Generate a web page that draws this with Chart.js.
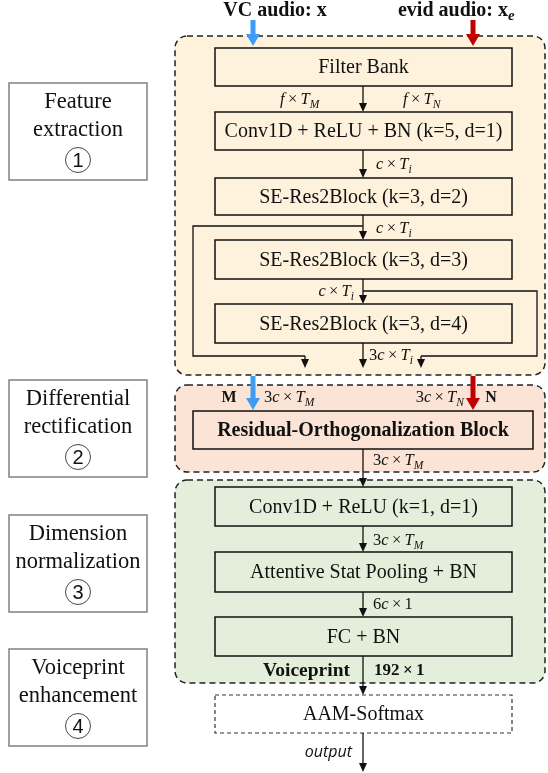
<!DOCTYPE html>
<html lang="en">
<head>
    <meta charset="UTF-8">
    <title>Voiceprint pipeline</title>
    <script src="https://cdn.jsdelivr.net/npm/chart.js"></script>
    <style>
        html, body { margin: 0; padding: 0; background: #fff; }
        #diagram { display: block; }
    </style>
</head>
<body>
    <canvas id="diagram" width="548" height="773"></canvas>

    <script>
        // ---- content ----
        const inputLabels = ['VC audio: x', 'evid audio: x'];
        const stageNames = [
            ['Feature', 'extraction'],
            ['Differential', 'rectification'],
            ['Dimension', 'normalization'],
            ['Voiceprint', 'enhancement']
        ];
        const stageNumbers = ['1', '2', '3', '4'];
        const blockLabels = [
            'Filter Bank',
            'Conv1D + ReLU + BN (k=5, d=1)',
            'SE-Res2Block (k=3, d=2)',
            'SE-Res2Block (k=3, d=3)',
            'SE-Res2Block (k=3, d=4)',
            'Residual-Orthogonalization Block',
            'Conv1D + ReLU (k=1, d=1)',
            'Attentive Stat Pooling + BN',
            'FC + BN',
            'AAM-Softmax'
        ];
        const dimLabels = [
            'f × T_M', 'f × T_N', 'c × T_i', 'c × T_i', 'c × T_i', '3c × T_i',
            '3c × T_M', '3c × T_N', '3c × T_M', '3c × T_M', '6c × 1'
        ];
        const branchLabels = ['M', 'N'];
        const embedLabel = 'Voiceprint';
        const embedSize = '192 × 1';
        const outputLabel = 'output';

        // ---- layout (diagram units = px of the 548x773 page) ----
        const layout = {
            regions: [
                { x0: 175, x1: 545, y0: 36, y1: 375, fill: '#fff2dc' },
                { x0: 175, x1: 545, y0: 385, y1: 472, fill: '#fbe3d6' },
                { x0: 175, x1: 545, y0: 480, y1: 683, fill: '#e3efda' }
            ],
            stageBoxes: [[83, 180], [380, 477], [515, 612], [649, 746]],
            blocks: [
                [215, 512, 48, 86], [215, 512, 112, 150], [215, 512, 178, 215],
                [215, 512, 240, 279], [215, 512, 304, 343], [193, 533, 411, 449],
                [215, 512, 487, 526], [215, 512, 552, 592], [215, 512, 617, 656],
                [215, 512, 695, 733]
            ],
            dims: [
                [280, 100, 'left'], [403, 100, 'left'], [376, 165, 'left'], [376, 229, 'left'],
                [354, 292, 'right'], [369, 356, 'left'], [264, 398, 'left'], [464, 398, 'right'],
                [373, 461, 'left'], [373, 541, 'left'], [373, 605, 'left']
            ]
        };
        const midX = 363, blueX = 253, redX = 473;

        const diagramPlugin = {
            id: 'diagram',
            afterDraw(chart) {
                const ctx = chart.ctx;
                const sx = chart.scales.x, sy = chart.scales.y;
                const X = v => sx.getPixelForValue(v);
                const Y = v => sy.getPixelForValue(v);
                const serif = '"Liberation Serif", "Times New Roman", serif';

                function roundRect(x0, y0, x1, y1, r) {
                    ctx.beginPath();
                    ctx.moveTo(X(x0) + r, Y(y0));
                    ctx.arcTo(X(x1), Y(y0), X(x1), Y(y1), r);
                    ctx.arcTo(X(x1), Y(y1), X(x0), Y(y1), r);
                    ctx.arcTo(X(x0), Y(y1), X(x0), Y(y0), r);
                    ctx.arcTo(X(x0), Y(y0), X(x1), Y(y0), r);
                    ctx.closePath();
                }

                function line(pts, color, w) {
                    ctx.save();
                    ctx.strokeStyle = color || '#111';
                    ctx.lineWidth = w || 1.3;
                    ctx.setLineDash([]);
                    ctx.beginPath();
                    pts.forEach((p, i) => i ? ctx.lineTo(X(p[0]), Y(p[1])) : ctx.moveTo(X(p[0]), Y(p[1])));
                    ctx.stroke();
                    ctx.restore();
                }

                function head(x, y, color, w, l) {
                    ctx.save();
                    ctx.fillStyle = color || '#111';
                    ctx.beginPath();
                    ctx.moveTo(X(x), Y(y));
                    ctx.lineTo(X(x) - w / 2, Y(y) - l);
                    ctx.lineTo(X(x) + w / 2, Y(y) - l);
                    ctx.closePath();
                    ctx.fill();
                    ctx.restore();
                }

                function arrowDown(x, y0, y1) {
                    line([[x, y0], [x, y1 - 6]]);
                    head(x, y1, '#111', 8, 9);
                }

                function fatArrow(x, y0, y1, color) {
                    ctx.save();
                    ctx.fillStyle = color;
                    ctx.fillRect(X(x) - 2.5, Y(y0), 5, Y(y1) - Y(y0) - 10);
                    ctx.restore();
                    head(x, y1, color, 14, 12);
                }

                function text(str, x, y, font, align, color) {
                    ctx.save();
                    ctx.font = font;
                    ctx.fillStyle = color || '#111';
                    ctx.textAlign = align || 'center';
                    ctx.textBaseline = 'middle';
                    ctx.fillText(str, X(x), Y(y));
                    ctx.restore();
                }

                // math-ish label: letters italic, "_x" subscript
                function math(str, x, y, align, size, bold) {
                    const parts = [];
                    for (let i = 0; i < str.length; i++) {
                        const ch = str[i];
                        if (ch === '_') { parts.push({ t: str[i + 1], it: true, sub: true }); i++; continue; }
                        if (ch === ' ') { parts.push({ t: '\u2009', it: false, sub: false }); continue; }
                        parts.push({ t: ch, it: /[a-zA-Z]/.test(ch), sub: false });
                    }
                    const b = bold ? 'bold ' : '';
                    const fontOf = p => (p.it ? 'italic ' : '') + b + (p.sub ? size * 0.7 : size) + 'px ' + serif;
                    ctx.save();
                    let total = 0;
                    parts.forEach(p => { ctx.font = fontOf(p); p.w = ctx.measureText(p.t).width; total += p.w; });
                    let cx = X(x);
                    if (align === 'right') cx -= total;
                    else if (align === 'center') cx -= total / 2;
                    ctx.fillStyle = '#111';
                    ctx.textBaseline = 'middle';
                    ctx.textAlign = 'left';
                    parts.forEach(p => {
                        ctx.font = fontOf(p);
                        ctx.fillText(p.t, cx, Y(y) + (p.sub ? size * 0.3 : 0));
                        cx += p.w;
                    });
                    ctx.restore();
                }

                // dashed stage regions
                layout.regions.forEach(r => {
                    roundRect(r.x0, r.y0, r.x1, r.y1, 12);
                    ctx.fillStyle = r.fill;
                    ctx.fill();
                    ctx.save();
                    ctx.setLineDash([6, 4]);
                    ctx.lineWidth = 1.5;
                    ctx.strokeStyle = '#222';
                    ctx.stroke();
                    ctx.restore();
                });

                // stage labels on the left
                layout.stageBoxes.forEach((sb, i) => {
                    ctx.save();
                    ctx.strokeStyle = '#808080';
                    ctx.lineWidth = 1.5;
                    ctx.strokeRect(X(9), Y(sb[0]), X(147) - X(9), Y(sb[1]) - Y(sb[0]));
                    ctx.restore();
                    text(stageNames[i][0], 78, sb[0] + 19, '22.5px ' + serif);
                    text(stageNames[i][1], 78, sb[0] + 47, '22.5px ' + serif);
                    ctx.save();
                    ctx.strokeStyle = '#333';
                    ctx.lineWidth = 0.9;
                    ctx.beginPath();
                    ctx.arc(X(78), Y(sb[0] + 77), 12.5, 0, Math.PI * 2);
                    ctx.stroke();
                    ctx.restore();
                    text(stageNumbers[i], 78, sb[0] + 78, '20px "Liberation Sans", Arial, sans-serif');
                });

                // blocks
                layout.blocks.forEach((bk, i) => {
                    const last = i === layout.blocks.length - 1;
                    ctx.save();
                    ctx.fillStyle = last ? '#ffffff' : 'rgba(0,0,0,0)';
                    ctx.fillRect(X(bk[0]), Y(bk[2]), X(bk[1]) - X(bk[0]), Y(bk[3]) - Y(bk[2]));
                    ctx.strokeStyle = last ? '#333' : '#111';
                    ctx.lineWidth = last ? 1.2 : 1.5;
                    if (last) ctx.setLineDash([4, 3]);
                    ctx.strokeRect(X(bk[0]), Y(bk[2]), X(bk[1]) - X(bk[0]), Y(bk[3]) - Y(bk[2]));
                    ctx.restore();
                    const font = (i === 5 ? 'bold 20px ' : '20px ') + serif;
                    text(blockLabels[i], (bk[0] + bk[1]) / 2, (bk[2] + bk[3]) / 2 + 1, font);
                });

                // inputs
                text(inputLabels[0], 275, 11, 'bold 20px ' + serif);
                ctx.save();
                ctx.font = 'bold 20px ' + serif;
                const w1 = ctx.measureText(inputLabels[1]).width;
                ctx.restore();
                text(inputLabels[1], 453, 11, 'bold 20px ' + serif);
                text('e', 453 + w1 / 2, 16, 'italic bold 15px ' + serif, 'left');
                fatArrow(blueX, 20, 46, '#3d9cf5');
                fatArrow(redX, 20, 46, '#c00000');
                fatArrow(blueX, 376, 410, '#3d9cf5');
                fatArrow(redX, 376, 410, '#c00000');

                // main flow
                const bl = layout.blocks;
                arrowDown(midX, bl[0][3], bl[1][2]);
                arrowDown(midX, bl[1][3], bl[2][2]);
                arrowDown(midX, bl[2][3], bl[3][2]);
                arrowDown(midX, bl[3][3], bl[4][2]);
                arrowDown(midX, bl[4][3], 368);
                // skip connections
                line([[midX, 226], [193, 226], [193, 356], [305, 356]]);
                arrowDown(305, 356, 368);
                line([[midX, 291], [537, 291], [537, 356], [421, 356]]);
                arrowDown(421, 356, 368);

                arrowDown(midX, bl[5][3], bl[6][2]);
                arrowDown(midX, bl[6][3], bl[7][2]);
                arrowDown(midX, bl[7][3], bl[8][2]);
                arrowDown(midX, bl[8][3], bl[9][2]);
                arrowDown(midX, bl[9][3], 772);

                // dimension labels
                layout.dims.forEach((d, i) => math(dimLabels[i], d[0], d[1], d[2], 16.5));
                text(branchLabels[0], 229, 398, 'bold 16px ' + serif);
                text(branchLabels[1], 491, 398, 'bold 16px ' + serif);
                text(embedLabel, 350, 671, 'bold 19.5px ' + serif, 'right');
                math(embedSize, 374, 671, 'left', 17, true);
                text(outputLabel, 352, 752, 'italic 16px "Open Sans", "DejaVu Sans", sans-serif', 'right');
            }
        };

        new Chart(document.getElementById('diagram').getContext('2d'), {
            type: 'scatter',
            data: {
                datasets: [{
                    data: layout.blocks.map((bk, i) => ({ x: (bk[0] + bk[1]) / 2, y: (bk[2] + bk[3]) / 2 })),
                    pointRadius: 0
                }]
            },
            options: {
                responsive: false,
                animation: false,
                events: [],
                layout: { padding: 0 },
                plugins: { legend: { display: false }, tooltip: { enabled: false } },
                scales: {
                    x: { type: 'linear', min: 0, max: 548, display: false },
                    y: { type: 'linear', min: 0, max: 773, reverse: true, display: false }
                }
            },
            plugins: [diagramPlugin]
        });
    </script>
</body>
</html>
